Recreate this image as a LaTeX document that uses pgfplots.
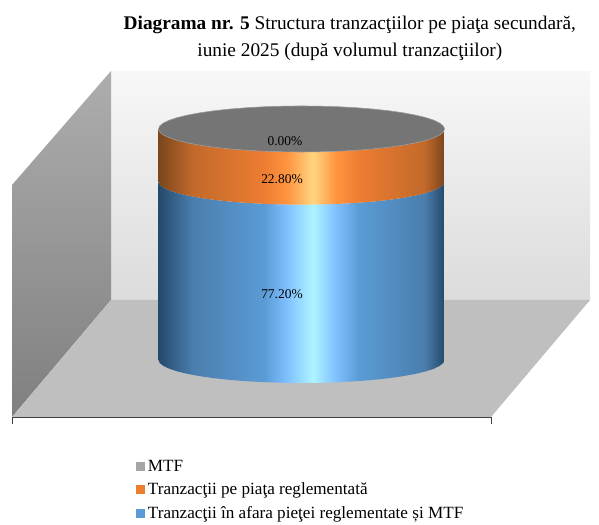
\documentclass[border=0pt]{standalone}
\usepackage{fontspec}
\setmainfont{Liberation Serif}
\usepackage{pgfplots}
\usepackage{pgfplotstable}
\pgfplotsset{compat=1.18}

\definecolor{cmtf}{HTML}{A5A5A5}
\definecolor{corange}{HTML}{ED7D31}
\definecolor{cblue}{HTML}{5B9BD5}

\definecolor{cylb0}{HTML}{244A6B}
\definecolor{cylb1}{HTML}{4A7EAE}
\definecolor{cylb2}{HTML}{5B9BD5}
\definecolor{cylb3}{HTML}{80C0FF}
\definecolor{cylb4}{HTML}{AEF4FF}
\definecolor{cylo0}{HTML}{7A461C}
\definecolor{cylo1}{HTML}{C2692B}
\definecolor{cylo2}{HTML}{ED7D31}
\definecolor{cylo3}{HTML}{FF9540}
\definecolor{cylo4}{HTML}{FFD580}

% the path covers 25bp to 75bp of the shading
\pgfdeclarehorizontalshading{cylblue}{100bp}{
  color(0bp)=(cylb0); color(25bp)=(cylb0); color(31bp)=(cylb1); color(43.5bp)=(cylb2);
  color(47.5bp)=(cylb3); color(52bp)=(cylb4); color(56bp)=(cylb3); color(60bp)=(cylb2);
  color(71.5bp)=(cylb1); color(75bp)=(cylb0); color(100bp)=(cylb0)}
\pgfdeclarehorizontalshading{cylorange}{100bp}{
  color(0bp)=(cylo0); color(25bp)=(cylo0); color(31bp)=(cylo1); color(43.5bp)=(cylo2);
  color(47.5bp)=(cylo3); color(52bp)=(cylo4); color(56bp)=(cylo3); color(60bp)=(cylo2);
  color(71.5bp)=(cylo1); color(75bp)=(cylo0); color(100bp)=(cylo0)}

% stacked shares, percent
\def\valblue{77.20}
\def\valorange{22.80}
\def\valmtf{0.00}

% cylinder outline: front arc from left to right (up=0), then back from right to left (up=1)
\pgfplotstableread{
x dy up
158.5 0 0
159.7 1.30 0
163.4 2.58 0
169.4 3.81 0
177.7 4.98 0
188.1 6.06 0
200.4 7.04 0
214.4 7.90 0
230.0 8.63 0
246.8 9.20 0
264.5 9.62 0
282.8 9.87 0
301.5 9.96 0
320.2 9.87 0
338.5 9.62 0
356.2 9.20 0
373.0 8.63 0
388.6 7.90 0
402.6 7.04 0
414.9 6.06 0
425.4 4.98 0
433.7 3.81 0
439.6 2.58 0
443.3 1.30 0
444.5 0 0
444.5 0 1
443.3 1.30 1
439.6 2.58 1
433.7 3.81 1
425.4 4.98 1
414.9 6.06 1
402.6 7.04 1
388.6 7.90 1
373.0 8.63 1
356.2 9.20 1
338.5 9.62 1
320.2 9.87 1
301.5 9.96 1
282.8 9.87 1
264.5 9.62 1
246.8 9.20 1
230.0 8.63 1
214.4 7.90 1
200.4 7.04 1
188.1 6.06 1
177.7 4.98 1
169.4 3.81 1
163.4 2.58 1
159.7 1.30 1
158.5 0 1
}\outline

\begin{document}
\begin{tikzpicture}
\useasboundingbox (0,0) rectangle (599bp,525bp);
\begin{axis}[
    at={(0,0)}, anchor=south west,
    scale only axis,
    width=599bp, height=525bp,
    xmin=0, xmax=599,
    ymin=-71.43, ymax=155.84,
    axis lines=none,
    clip=false,
    title={\textbf{Diagrama nr. 5} Structura tranzacţiilor pe piaţa secundară,\\iunie 2025 (după volumul tranzacţiilor)},
    title style={at={(0.584,0.915)}, anchor=center, align=center, inner sep=0pt,
        font=\fontsize{19.4}{27}\selectfont},
    legend style={at={(0.227,0.127)}, anchor=north west, draw=none, fill=none,
        font=\fontsize{17.2}{18}\selectfont, row sep=7.5bp, inner sep=0pt, outer sep=0pt,
        nodes={inner xsep=3pt, inner ysep=1.5pt}},
    legend cell align=left,
    legend image code/.code={\fill[#1] (0bp,-4.5bp) rectangle (9bp,4.5bp);},
]
    \addlegendimage{draw=none, fill=cmtf}
    \addlegendentry{MTF}
    \addlegendimage{draw=none, fill=corange}
    \addlegendentry{Tranzacţii pe piaţa reglementată}
    \addlegendimage{draw=none, fill=cblue}
    \addlegendentry{Tranzacţii în afara pieţei reglementate și MTF}

    % back wall
    \addplot[forget plot, draw=none, top color=white!97!black, bottom color=white!86!black]
        coordinates {(111,125.1) (590,125.1) (590,25.97) (111,25.97)} --cycle;
    % side wall
    \addplot[forget plot, draw=none, shade, top color=white!68!black, bottom color=white!50!black]
        coordinates {(111,125.1) (12,75.76) (12,-24.68) (111,25.97)} --cycle;
    % floor
    \addplot[forget plot, draw=none, fill=white!75!black]
        coordinates {(111,25.97) (590,25.97) (491,-24.68) (12,-24.68)} --cycle;
    % base line of the floor
    \addplot[forget plot, draw=black!75, line width=0.8bp]
        coordinates {(12,-27.7) (12,-24.68) (491,-24.68) (491,-27.7)};

    % cylinder bands
    \addplot[forget plot, draw=none, shade, shading=cylblue, shading angle=0]
        table[x=x, y expr={\thisrow{up}*\valblue-\thisrow{dy}}] {\outline} --cycle;
    \addplot[forget plot, draw=none, shade, shading=cylorange, shading angle=0]
        table[x=x, y expr={\valblue+\thisrow{up}*\valorange-\thisrow{dy}}] {\outline} --cycle;
    % top (MTF band has no height)
    \addplot[forget plot, draw=white!60!black, line width=0.6bp, fill=black!54]
        table[x=x, y expr={\valblue+\valorange+\valmtf-\thisrow{dy}*(1-2*\thisrow{up})}] {\outline} --cycle;

    \node[font=\fontsize{13.5}{14}\selectfont] at (axis cs:285,94.8) {0.00\%};
    \node[font=\fontsize{13.5}{14}\selectfont] at (axis cs:282,78.4) {22.80\%};
    \node[font=\fontsize{13.5}{14}\selectfont] at (axis cs:282,28.6) {77.20\%};
\end{axis}
\end{tikzpicture}
\end{document}
